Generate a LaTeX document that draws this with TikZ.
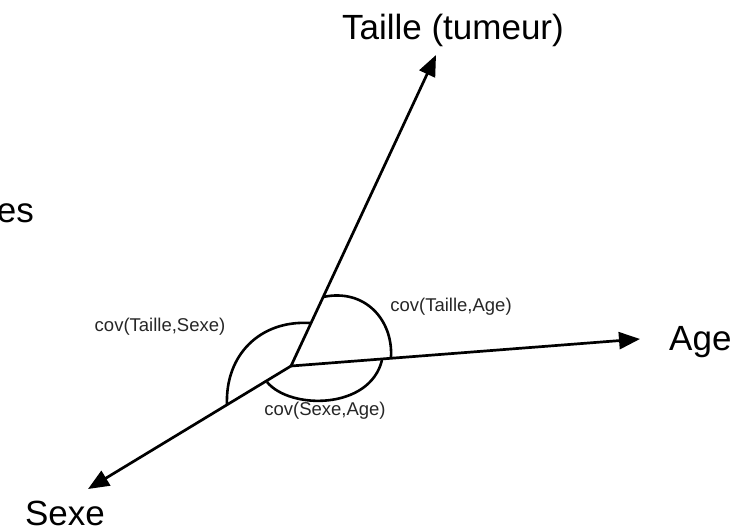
\documentclass[tikz,border=0pt]{standalone}
\usepackage{fontspec}
\setmainfont{Liberation Sans}
\usetikzlibrary{arrows.meta}
\begin{document}
\begin{tikzpicture}[x=1pt,y=-1pt,
  axis/.style={line width=2.7pt,-{Triangle[length=21pt,width=17pt]}},
  arcline/.style={line width=2.6pt},
  biglabel/.style={inner sep=0pt,font=\fontsize{35}{40}\selectfont},
  smalllabel/.style={inner sep=0pt,font=\fontsize{18.5}{22}\selectfont,text=black!85}]
\useasboundingbox (0,0) rectangle (733,531);
\coordinate (O) at (291,366);
\coordinate (T) at (436,55);
\coordinate (A) at (640,339);
\coordinate (S) at (88,489);
\draw[axis] (O) -- (T);
\draw[axis] (O) -- (A);
\draw[axis] (O) -- (S);
\coordinate (a1) at (323,297);
\coordinate (a2) at (391,357);
\coordinate (b1) at (310,323);
\coordinate (b2) at (227,405);
\coordinate (c1) at (267,382);
\coordinate (c2) at (382,360);
\draw[arcline] (a1) .. controls (365,288) and (393,320) .. (a2);
\draw[arcline] (b1) .. controls (260,320) and (225,355) .. (b2);
\draw[arcline] (c1) .. controls (290,410) and (370,410) .. (c2);
\node[biglabel,anchor=base] (lt) at (453,39) {Taille (tumeur)};
\node[biglabel,anchor=base west] (la) at (669,350) {Age};
\node[biglabel,anchor=base] (ls) at (65,525) {Sexe};
\node[biglabel,anchor=base east] (le) at (34,222) {es};
\node[smalllabel] (cta) at (451,307) {cov(Taille,Age)};
\node[smalllabel] (cts) at (160,327) {cov(Taille,Sexe)};
\node[smalllabel] (csa) at (325,411) {cov(Sexe,Age)};
\end{tikzpicture}
\end{document}
